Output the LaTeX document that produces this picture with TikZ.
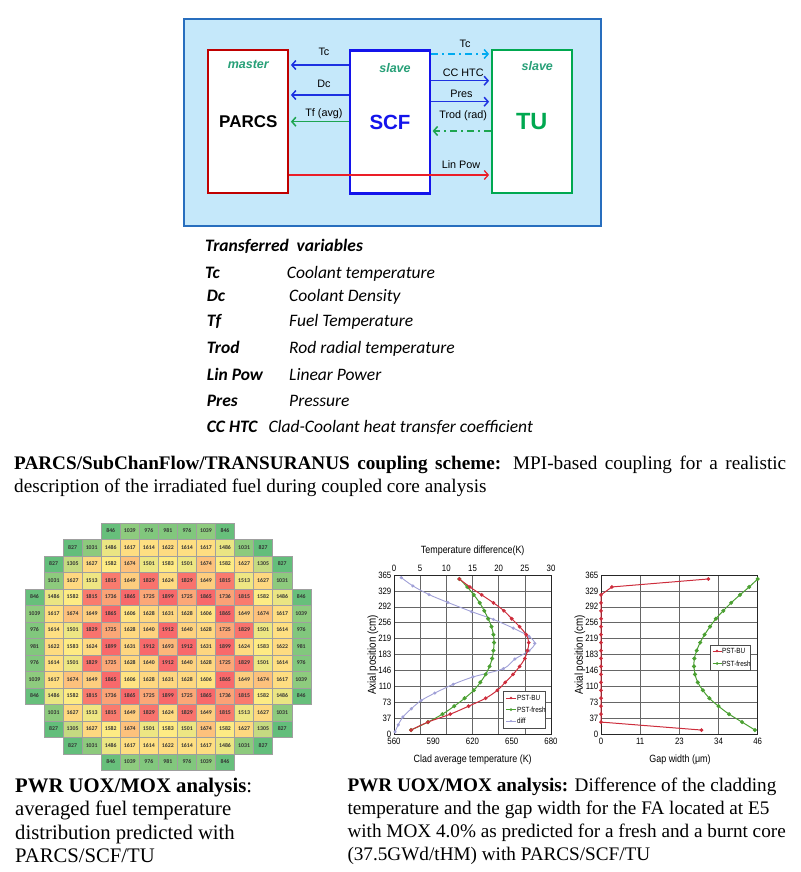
\documentclass[tikz,border=0pt]{standalone}
\usepackage{fontspec}
\setmainfont{Liberation Serif}
\newfontfamily\arialf{Liberation Sans}
\newfontfamily\calib{Carlito}
\newfontfamily\plotf[FakeStretch=0.85]{Liberation Sans}
\usetikzlibrary{arrows.meta}

\definecolor{skyfill}{RGB}{197,232,250}
\definecolor{skyline}{RGB}{40,110,190}
\definecolor{parcsred}{RGB}{192,0,0}
\definecolor{scfblue}{RGB}{20,20,235}
\definecolor{tugreen}{RGB}{0,168,80}
\definecolor{roleteal}{RGB}{40,160,120}
\definecolor{arrblue}{RGB}{30,50,225}
\definecolor{arrgreen}{RGB}{30,165,80}
\definecolor{arrcyan}{RGB}{0,170,240}
\definecolor{arrred}{RGB}{235,30,40}
\definecolor{hmgrn}{RGB}{99,190,123}
\definecolor{hmyel}{RGB}{255,235,132}
\definecolor{hmred}{RGB}{248,105,107}
\definecolor{bucol}{RGB}{205,45,60}
\definecolor{frcol}{RGB}{75,160,50}
\definecolor{dfcol}{RGB}{160,160,215}

\begin{document}
\begin{tikzpicture}[x=1pt, y=-1pt,
  box/.style={draw, line width=2.2pt, fill=white, minimum width=80pt, minimum height=143pt, inner sep=0pt},
  role/.style={font=\arialf\bfseries\itshape\fontsize{12.5}{14}\selectfont, text=roleteal},
  flow/.style={line width=1.5pt, -{Straight Barb[length=4pt,width=9pt]}, shorten >=1.5pt},
  dashdot/.style={dash pattern=on 7pt off 4pt on 2pt off 4pt},
  flowlbl/.style={font=\arialf\fontsize{10.8}{12}\selectfont, text=black, anchor=base, inner sep=0pt},
  varkey/.style={font=\calib\bfseries\itshape\fontsize{17.5}{20}\selectfont, anchor=base west, inner sep=0pt},
  vardef/.style={font=\calib\itshape\fontsize{17.5}{20}\selectfont, anchor=base west, inner sep=0pt},
  cell/.style={draw=gray!75, line width=0.35pt},
  cellnum/.style={font=\calib\bfseries\fontsize{5.8}{6}\selectfont, text=black!80, inner sep=0pt},
  gridln/.style={draw=black!60, line width=0.6pt},
  axbox/.style={draw=black!85, line width=0.7pt},
  ticklbl/.style={font=\plotf\fontsize{9.2}{10}\selectfont, inner sep=0pt},
  axlbl/.style={font=\plotf\fontsize{10.5}{11}\selectfont, inner sep=0pt},
  legtxt/.style={font=\plotf\fontsize{7.5}{8}\selectfont, inner sep=0pt, anchor=west},
  curvebu/.style={draw=bucol, line width=1pt, mark=*, mark size=1.3pt, mark options={fill=bucol, draw=bucol, solid}},
  curvefr/.style={draw=frcol, line width=1pt, mark=*, mark size=1.5pt, mark options={fill=frcol, draw=frcol, solid}},
  curvedf/.style={draw=dfcol, line width=0.9pt, mark=*, mark size=1.1pt, mark options={fill=dfcol, draw=dfcol, solid}},
  capt/.style={font=\fontsize{19.2}{22.5}\selectfont, inner sep=0pt, anchor=north west}
]
\useasboundingbox (0,0) rectangle (800,872);

% coupling scheme
\draw[fill=skyfill, draw=skyline, line width=2pt] (184,19) rectangle (600.7,225.7);
\node[box, draw=parcsred, font=\arialf\bfseries\fontsize{17}{19}\selectfont] (parcs) at (248.3,121.7) {PARCS};
\node[box, draw=scfblue, text=scfblue, font=\arialf\bfseries\fontsize{20.5}{22}\selectfont] (scf) at (390,122) {SCF};
\node[box, draw=tugreen, text=tugreen, font=\arialf\bfseries\fontsize{23.5}{25}\selectfont] (tu) at (531.7,121.7) {TU};
\node[role] (mst) at (248.3,64.3) {master};
\node[role] (slv1) at (395,67.7) {slave};
\node[role] (slv2) at (537.3,66) {slave};

% SCF -> PARCS
\draw[flow, arrblue] (scf.west |- 0,65) -- node[flowlbl, pos=0.42, yshift=9.4pt] (lTc1) {Tc} (parcs.east |- 0,65);
\draw[flow, arrblue] (scf.west |- 0,95) -- node[flowlbl, pos=0.42, yshift=7.8pt] (lDc) {Dc} (parcs.east |- 0,95);
\draw[flow, arrgreen] (scf.west |- 0,121.7) -- node[flowlbl, pos=0.42, yshift=5.5pt] (lTf) {Tf (avg)} (parcs.east |- 0,121.7);
% SCF <-> TU
\draw[flow, arrcyan, dashdot] (scf.east |- 0,54) -- node[flowlbl, pos=0.57, yshift=6.8pt] (lTc2) {Tc} (tu.west |- 0,54);
\draw[flow, arrblue] (scf.east |- 0,80.7) -- node[flowlbl, pos=0.54, yshift=4.5pt] (lHtc) {CC HTC} (tu.west |- 0,80.7);
\draw[flow, arrblue] (scf.east |- 0,101.7) -- node[flowlbl, pos=0.51, yshift=4.5pt] (lPr) {Pres} (tu.west |- 0,101.7);
\draw[flow, arrgreen, dashdot] (tu.west |- 0,131) -- node[flowlbl, pos=0.46, yshift=12.8pt] (lTr) {Trod (rad)} (scf.east |- 0,131);
% PARCS -> TU
\draw[flow, arrred, line width=1.3pt] (parcs.east |- 0,175) -- node[flowlbl, pos=0.853, yshift=6.8pt] (lLp) {Lin Pow} (tu.west |- 0,175);

% transferred variables
\node[varkey] (vtitle) at (205,251) {Transferred\ \ variables};
\node[varkey] (kTc) at (205,278) {Tc};
\node[vardef] (dTc) at (286.7,278) {Coolant temperature};
\node[varkey] (kDc) at (206.7,301) {Dc};
\node[vardef] (dDc) at (289,301) {Coolant Density};
\node[varkey] (kTf) at (206.7,326) {Tf};
\node[vardef] (dTf) at (289,326) {Fuel Temperature};
\node[varkey] (kTr) at (206.7,353) {Trod};
\node[vardef] (dTr) at (289,353) {Rod radial temperature};
\node[varkey] (kLp) at (206.7,380) {Lin Pow};
\node[vardef] (dLp) at (289,380) {Linear Power};
\node[varkey] (kPr) at (206.7,406) {Pres};
\node[vardef] (dPr) at (289,406) {Pressure};
\node[varkey] (kHt) at (206.7,432) {CC HTC};
\node[vardef] (dHt) at (268.3,432) {Clad-Coolant heat transfer coefficient};

\node[capt, text width=772pt, align=justify] (capTop) at (14,455.9) {\noindent\textbf{PARCS/SubChanFlow/TRANSURANUS coupling scheme:} MPI-based coupling for a realistic\linebreak description of the irradiated fuel during coupled core analysis};

% core map of averaged fuel temperature
\foreach \r/\c/\vals in {
  0/4/{846,1039,976,981,976,1039,846},
  1/2/{827,1031,1486,1617,1614,1622,1614,1617,1486,1031,827},
  2/1/{827,1305,1627,1582,1674,1501,1583,1501,1674,1582,1627,1305,827},
  3/1/{1031,1627,1513,1815,1649,1829,1624,1829,1649,1815,1513,1627,1031},
  4/0/{846,1486,1582,1815,1736,1865,1725,1899,1725,1865,1736,1815,1582,1486,846},
  5/0/{1039,1617,1674,1649,1865,1606,1628,1631,1628,1606,1865,1649,1674,1617,1039},
  6/0/{976,1614,1501,1829,1725,1628,1640,1912,1640,1628,1725,1829,1501,1614,976},
  7/0/{981,1622,1583,1624,1899,1631,1912,1693,1912,1631,1899,1624,1583,1622,981}}
{
  \pgfmathtruncatemacro\rb{14-\r}
  \foreach \row in {\r,\rb}
  \foreach \v [count=\i from 0] in \vals {
    \pgfmathtruncatemacro\col{\c+\i}
    \ifnum\v<1590
      \pgfmathsetmacro\mix{max(0,min(100,(\v-827)/7.63))}
      \colorlet{cellc}{hmyel!\mix!hmgrn}
    \else
      \pgfmathsetmacro\mix{max(0,min(100,(\v-1590)/2.6))}
      \colorlet{cellc}{hmred!\mix!hmyel}
    \fi
    \draw[cell, fill=cellc] ({25+\col*19.05},{522.7+\row*16.5}) rectangle ++(19.05,16.5);
    \node[cellnum] (hm\row-\col) at ({25+(\col+0.5)*19.05},{522.7+(\row+0.5)*16.5}) {\v};
  }
}

% clad temperature profile
\begin{scope}[shift={(394,734)}, x=1.3083pt, y=0.4356pt]
  \foreach \t in {20,40,...,100} \draw[gridln] (\t,0) -- (\t,365);
  \foreach \z in {36.5,73,109.5,146,182.5,219,255.5,292,328.5} \draw[gridln] (0,\z) -- (120,\z);
  \draw[axbox] (0,0) rectangle (120,365);
  \foreach \t in {560,590,620,650,680}
    \node[ticklbl, anchor=north, yshift=-4pt] (tb\t) at (\t-560,0) {\t};
  \foreach \d in {0,5,...,30}
    \node[ticklbl, anchor=south, yshift=3.5pt] (tt\d) at (4*\d,365) {\d};
  \foreach \z/\lab in {0/0,36.5/37,73/73,109.5/110,146/146,182.5/183,219/219,255.5/256,292/292,328.5/329,365/365}
    \node[ticklbl, anchor=east, xshift=-2.5pt] (ty\lab) at (0,\z) {\lab};
  \draw[curvedf] plot[smooth, tension=0.5] coordinates {(0.8,5) (3.2,21) (6.8,39) (13.2,58) (20.8,77) (31.2,94) (45.2,114) (60.4,131) (83.6,150) (92.4,172) (103.2,191) (107.6,208) (103.2,224) (91.2,243) (76,263) (59.2,281) (41.2,302) (26.8,320) (14.4,340) (5.6,359)};
  \draw[curvefr] plot[smooth, tension=0.6] coordinates {(13,9.1) (26,27.4) (37,45.6) (46,63.9) (54,82.1) (61,100.4) (66,118.6) (70,136.9) (73,155.1) (75,173.4) (76,191.6) (76.5,209.9) (76,228.1) (74.5,246.4) (72,264.6) (69,282.9) (65.5,301.1) (61,319.4) (56,337.6) (50,355.9)};
  \draw[curvebu] plot[smooth, tension=0.6] coordinates {(13,9.1) (26,27.4) (43,45.6) (57,63.9) (70,82.1) (79,100.4) (85,118.6) (91,136.9) (96,155.1) (100,173.4) (102,191.6) (103,209.9) (101,228.1) (96,246.4) (90,264.6) (84,282.9) (76,301.1) (67,319.4) (58,337.6) (50,355.9)};
\end{scope}
\node[axlbl] (tdiff) at (472.7,551) {Temperature difference(K)};
\node[axlbl] (tclad) at (472.7,760) {Clad average temperature (K)};
\node[axlbl, rotate=90, font=\plotf\fontsize{11.5}{12}\selectfont] (axp1) at (373,655) {Axial position (cm)};
\draw[fill=white, draw=black!70, line width=0.5pt] (503,691) rectangle (545,728.5);
\draw[bucol, line width=1pt] (506,698) -- (516,698);
\fill[bucol] (511,698) circle (1.3pt);
\node[legtxt] (lg1a) at (517,698) {PST-BU};
\draw[frcol, line width=1pt] (506,709.5) -- (516,709.5);
\fill[frcol] (511,709.5) circle (1.5pt);
\node[legtxt] (lg1b) at (517,709.5) {PST-fresh};
\draw[dfcol, line width=0.9pt] (506,721) -- (516,721);
\fill[dfcol] (511,721) circle (1.1pt);
\node[legtxt] (lg1c) at (517,721) {diff};

% gap width profile
\begin{scope}[shift={(601,734)}, x=3.4065pt, y=0.4356pt]
  \foreach \g in {11.5,23,34.5} \draw[gridln] (\g,0) -- (\g,365);
  \foreach \z in {36.5,73,109.5,146,182.5,219,255.5,292,328.5} \draw[gridln] (0,\z) -- (46,\z);
  \draw[axbox] (0,0) rectangle (46,365);
  \foreach \g/\lab in {0/0,11.5/11,23/23,34.5/34,46/46}
    \node[ticklbl, anchor=north, yshift=-4pt] (gb\lab) at (\g,0) {\lab};
  \foreach \z/\lab in {0/0,36.5/37,73/73,109.5/110,146/146,182.5/183,219/219,255.5/256,292/292,328.5/329,365/365}
    \node[ticklbl, anchor=east, xshift=-2.5pt] (gy\lab) at (0,\z) {\lab};
  \draw[curvefr] plot[smooth, tension=0.6] coordinates {(45.2,9.1) (41.4,27.4) (37.6,45.6) (34.5,63.9) (31.8,82.1) (29.9,100.4) (28.4,118.6) (27.6,136.9) (27.3,155.1) (27.4,173.4) (28.1,191.6) (29.1,209.9) (30.4,228.1) (32,246.4) (33.7,264.6) (35.9,282.9) (38.2,301.1) (40.8,319.4) (43.5,337.6) (46,355.9)};
  \draw[curvebu] plot coordinates {(29.5,9.1) (0,27.4) (0,45.6) (0,63.9) (0,82.1) (0,100.4) (0,118.6) (0,136.9) (0,155.1) (0,173.4) (0,191.6) (0,209.9) (0,228.1) (0,246.4) (0,264.6) (0,282.9) (0,301.1) (0,319.4) (3.2,337.6) (31.5,355.9)};
\end{scope}
\node[axlbl] (tgap) at (680,760) {Gap width (μm)};
\node[axlbl, rotate=90, font=\plotf\fontsize{11.5}{12}\selectfont] (axp2) at (580,655) {Axial position (cm)};
\draw[fill=white, draw=black!70, line width=0.5pt] (710.7,645) rectangle (750,670.7);
\draw[bucol, line width=1pt] (712.5,651) -- (721.5,651);
\fill[bucol] (717,651) circle (1.3pt);
\node[legtxt] (lg2a) at (722,651) {PST-BU};
\draw[frcol, line width=1pt] (712.5,663.5) -- (721.5,663.5);
\fill[frcol] (717,663.5) circle (1.5pt);
\node[legtxt] (lg2b) at (722,663.5) {PST-fresh};

% captions
\node[capt, font=\fontsize{20.7}{23.5}\selectfont, align=left] (capL) at (15,777.6) {\textbf{PWR UOX/MOX analysis}:\\averaged fuel temperature\\distribution predicted with\\PARCS/SCF/TU};
\node[capt, font=\fontsize{19.2}{23}\selectfont, align=left] (capR) at (347.3,777.9) {\textbf{PWR UOX/MOX analysis:} Difference of the cladding\\temperature and the gap width for the FA located at E5\\with MOX 4.0\% as predicted for a fresh and a burnt core\\(37.5GWd/tHM) with PARCS/SCF/TU};
\end{tikzpicture}
\end{document}
